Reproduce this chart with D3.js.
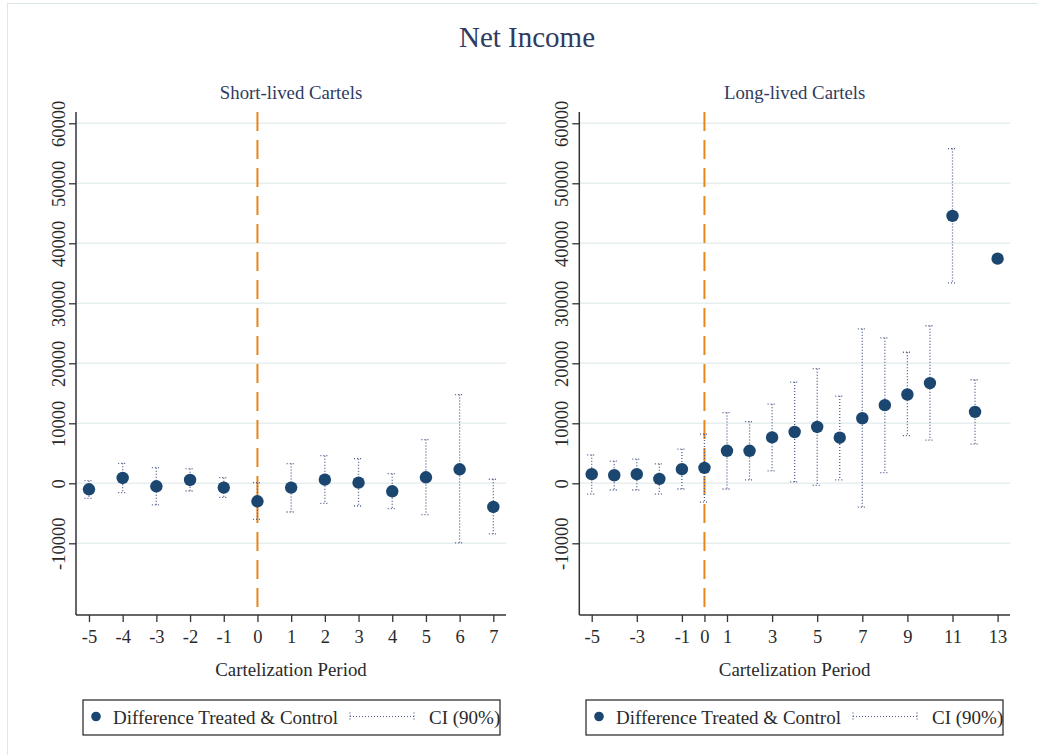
<!DOCTYPE html>
<html>
<head>
<meta charset="utf-8">
<script src="https://cdn.jsdelivr.net/npm/d3@7"></script>
<style>
  html, body { margin: 0; padding: 0; background: #ffffff; }
  svg { display: block; }
  text { font-family: "Liberation Serif", "Times New Roman", serif; }
</style>
</head>
<body>
<svg id="chart" width="1038" height="755"></svg>
<script>
// Event-study estimates of net income: difference between treated and control firms
const shortPeriods = [-5, -4, -3, -2, -1, 0, 1, 2, 3, 4, 5, 6, 7];
const shortEst = [-1000, 890, -500, 560, -720, -3000, -720, 610, 110, -1330, 1000, 2330, -3940];
const shortLo  = [-2500, -1560, -3610, -1280, -2330, -6000, -4780, -3330, -3780, -4220, -5220, -9940, -8440];
const shortHi  = [440, 3330, 2610, 2440, 940, 110, 3280, 4610, 4110, 1610, 7280, 14780, 670];

const longPeriods = [-5, -4, -3, -2, -1, 0, 1, 2, 3, 4, 5, 6, 7, 8, 9, 10, 11, 12, 13];
const longEst = [1510, 1340, 1510, 730, 2350, 2570, 5420, 5420, 7650, 8550, 9390, 7600, 10840, 13020, 14800, 16700, 44560, 11900, 37440];
const longLo  = [-1790, -1120, -1120, -1790, -950, -3130, -950, 560, 2070, 220, -340, 560, -3970, 1790, 7930, 7210, 33390, 6540, null];
const longHi  = [4750, 3690, 4020, 3240, 5700, 8210, 11790, 10280, 13180, 16870, 19110, 14530, 25750, 24250, 21840, 26260, 55780, 17260, null];

const yTicks = [-10000, 0, 10000, 20000, 30000, 40000, 50000, 60000];
const shortXTicks = [-5, -4, -3, -2, -1, 0, 1, 2, 3, 4, 5, 6, 7];
const longXTicks = [-5, -3, -1, 0, 1, 3, 5, 7, 9, 11, 13];

const chartTitle = "Net Income";
const xTitle = "Cartelization Period";
const legendLabels = ["Difference Treated & Control", "CI (90%)"];

const C = {
  navy: "#1b4670",
  ci: "#4f5d88",
  orange: "#e8861a",
  grid: "#e6eef0",
  axis: "#333333",
  text: "#2a2a2a",
  title: "#2f3b60",
  frame: "#dbe6e8"
};

// plain hyphen for negatives
const fmtInt = d => (d < 0 ? "-" + Math.abs(d) : String(d));

const svg = d3.select("#chart");

// outer frame of the graph region
svg.append("line").attr("x1", 7).attr("x2", 1038).attr("y1", 3.5).attr("y2", 3.5)
  .attr("stroke", C.frame).attr("stroke-width", 1);
svg.append("line").attr("x1", 7.5).attr("x2", 7.5).attr("y1", 3.5).attr("y2", 755)
  .attr("stroke", C.frame).attr("stroke-width", 1);

svg.append("text")
  .attr("x", 527).attr("y", 47)
  .attr("text-anchor", "middle")
  .attr("font-size", 29)
  .attr("fill", C.title)
  .text(chartTitle);

const yTop = 112, yBottom = 615;
const y = d3.scaleLinear().domain([-21950, 61880]).range([yBottom, yTop]);

function drawPanel(cfg) {
  const x = d3.scaleLinear().domain(cfg.domain).range(cfg.range);
  const [x0, x1] = cfg.range;
  const g = svg.append("g");

  // horizontal gridlines
  g.selectAll("line.grid").data(yTicks).join("line")
    .attr("class", "grid")
    .attr("x1", x0).attr("x2", x1)
    .attr("y1", d => y(d)).attr("y2", d => y(d))
    .attr("stroke", C.grid).attr("stroke-width", 1.5);

  // y axis
  const yAxis = d3.axisLeft(y).tickValues(yTicks).tickSize(7).tickFormat(fmtInt);
  const ya = g.append("g").attr("transform", `translate(${x0},0)`).call(yAxis);
  ya.select(".domain").attr("d", `M0,${yTop}V${yBottom}`).attr("stroke", C.axis).attr("stroke-width", 1.5);
  ya.selectAll(".tick line").attr("stroke", C.axis).attr("stroke-width", 1.3);
  ya.selectAll(".tick text")
    .attr("transform", "rotate(-90)")
    .attr("x", 0).attr("y", -11).attr("dy", 0)
    .attr("text-anchor", "middle")
    .attr("font-size", 18.5)
    .attr("font-family", "Liberation Serif, serif")
    .attr("fill", C.text);

  // x axis
  const xAxis = d3.axisBottom(x).tickValues(cfg.ticks).tickSize(7).tickFormat(fmtInt);
  const xa = g.append("g").attr("transform", `translate(0,${yBottom})`).call(xAxis);
  xa.select(".domain").attr("d", `M${x0},0H${x1}`).attr("stroke", C.axis).attr("stroke-width", 1.5);
  xa.selectAll(".tick line").attr("stroke", C.axis).attr("stroke-width", 1.3);
  xa.selectAll(".tick text")
    .attr("y", 28).attr("dy", 0)
    .attr("font-size", 18.5)
    .attr("font-family", "Liberation Serif, serif")
    .attr("fill", C.text);

  // treatment start
  g.append("line")
    .attr("x1", x(0)).attr("x2", x(0))
    .attr("y1", yTop).attr("y2", yBottom)
    .attr("stroke", C.orange).attr("stroke-width", 2)
    .attr("stroke-dasharray", "19,9");

  // confidence intervals (dotted capped spikes)
  const rows = cfg.periods.map((p, i) => ({ p, est: cfg.est[i], lo: cfg.lo[i], hi: cfg.hi[i] }));
  const withCI = rows.filter(d => d.lo != null && d.hi != null);
  const ci = g.append("g")
    .attr("stroke", C.ci).attr("stroke-width", 1.3).attr("stroke-dasharray", "1,2").attr("fill", "none");
  ci.selectAll("line.spike").data(withCI).join("line")
    .attr("class", "spike")
    .attr("x1", d => x(d.p)).attr("x2", d => x(d.p))
    .attr("y1", d => y(d.hi)).attr("y2", d => y(d.lo));
  ci.selectAll("line.capHi").data(withCI).join("line")
    .attr("class", "capHi")
    .attr("x1", d => x(d.p) - 4.5).attr("x2", d => x(d.p) + 4.5)
    .attr("y1", d => y(d.hi)).attr("y2", d => y(d.hi));
  ci.selectAll("line.capLo").data(withCI).join("line")
    .attr("class", "capLo")
    .attr("x1", d => x(d.p) - 4.5).attr("x2", d => x(d.p) + 4.5)
    .attr("y1", d => y(d.lo)).attr("y2", d => y(d.lo));

  // point estimates
  g.selectAll("circle.est").data(rows).join("circle")
    .attr("class", "est")
    .attr("cx", d => x(d.p)).attr("cy", d => y(d.est))
    .attr("r", 6.2)
    .attr("fill", C.navy);

  // panel subtitle and axis title
  g.append("text")
    .attr("x", (x0 + x1) / 2).attr("y", 99)
    .attr("text-anchor", "middle")
    .attr("font-size", 18.8)
    .attr("fill", C.title)
    .text(cfg.subtitle);
  g.append("text")
    .attr("x", (x0 + x1) / 2).attr("y", 676)
    .attr("text-anchor", "middle")
    .attr("font-size", 18.9)
    .attr("fill", C.text)
    .text(xTitle);

  // legend
  const lx = cfg.legendX, lw = 417, ly = 700, lh = 35;
  const lg = g.append("g");
  lg.append("rect").attr("x", lx).attr("y", ly).attr("width", lw).attr("height", lh)
    .attr("fill", "#fff").attr("stroke", "#222").attr("stroke-width", 1.2);
  const cy = ly + lh / 2;
  lg.append("circle").attr("cx", lx + 13).attr("cy", cy - 1).attr("r", 4.8).attr("fill", C.navy);
  lg.append("text").attr("x", lx + 30).attr("y", cy + 6)
    .attr("font-size", 19).attr("fill", C.text).text(legendLabels[0]);
  const sg = lg.append("g").attr("stroke", C.ci).attr("stroke-width", 1.2).attr("stroke-dasharray", "1,2");
  sg.append("line").attr("x1", lx + 267).attr("x2", lx + 331).attr("y1", cy - 1).attr("y2", cy - 1);
  sg.append("line").attr("x1", lx + 267).attr("x2", lx + 267).attr("y1", cy - 5).attr("y2", cy + 3);
  sg.append("line").attr("x1", lx + 331).attr("x2", lx + 331).attr("y1", cy - 5).attr("y2", cy + 3);
  lg.append("text").attr("x", lx + 346).attr("y", cy + 6)
    .attr("font-size", 19).attr("fill", C.text).text(legendLabels[1]);
}

drawPanel({
  subtitle: "Short-lived Cartels",
  periods: shortPeriods, est: shortEst, lo: shortLo, hi: shortHi,
  ticks: shortXTicks,
  domain: [-5.385, 7.376], range: [76, 506],
  legendX: 83
});

drawPanel({
  subtitle: "Long-lived Cartels",
  periods: longPeriods, est: longEst, lo: longLo, hi: longHi,
  ticks: longXTicks,
  domain: [-5.55, 13.55], range: [579.3, 1010],
  legendX: 586
});
</script>
</body>
</html>
